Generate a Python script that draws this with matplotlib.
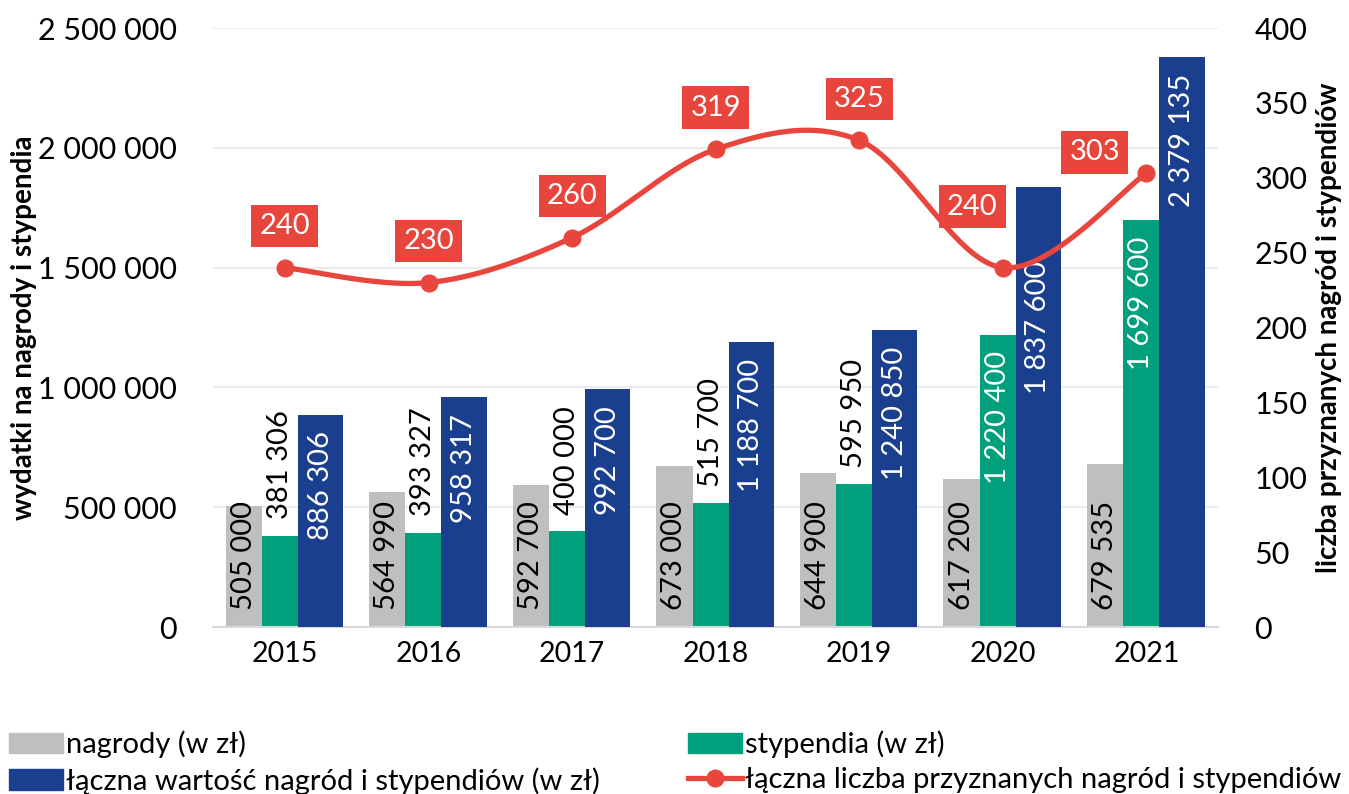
import numpy as np
import matplotlib
matplotlib.use("Agg")
import matplotlib.pyplot as plt
from matplotlib.patches import Patch
from matplotlib.lines import Line2D

plt.rcParams['font.family'] = ['Lato', 'DejaVu Sans']

years = ['2015', '2016', '2017', '2018', '2019', '2020', '2021']
nagrody = [505000, 564990, 592700, 673000, 644900, 617200, 679535]
stypendia = [381306, 393327, 400000, 515700, 595950, 1220400, 1699600]
lacznie = [886306, 958317, 992700, 1188700, 1240850, 1837600, 2379135]
liczba = [240, 230, 260, 319, 325, 240, 303]

GRAY = '#bfbfbf'
GREEN = '#00a07c'
BLUE = '#1b3f8f'
RED = '#e8453c'

# label shifts that were moved by hand in the original (points)
box_offsets = {5: (-22, 44), 6: (-37, 15)}
blue_label_offsets = {5: -53}


def fmt(v):
    return f'{v:,}'.replace(',', ' ')


def smooth(x, y, n=40):
    # bezier smoothing similar to excel "smoothed line"
    x = np.asarray(x, float)
    y = np.asarray(y, float)
    px = np.concatenate([[x[0]], x, [x[-1]]])
    py = np.concatenate([[y[0]], y, [y[-1]]])
    xs, ys = [], []
    t = np.linspace(0, 1, n)
    for i in range(len(x) - 1):
        p0 = np.array([px[i + 1], py[i + 1]])
        p3 = np.array([px[i + 2], py[i + 2]])
        c1 = p0 + (np.array([px[i + 2], py[i + 2]]) - np.array([px[i], py[i]])) / 6
        c2 = p3 - (np.array([px[i + 3], py[i + 3]]) - np.array([px[i + 1], py[i + 1]])) / 6
        b = ((1 - t) ** 3)[:, None] * p0 + (3 * (1 - t) ** 2 * t)[:, None] * c1 \
            + (3 * (1 - t) * t ** 2)[:, None] * c2 + (t ** 3)[:, None] * p3
        xs.extend(b[:, 0])
        ys.extend(b[:, 1])
    return xs, ys


fig = plt.figure(figsize=(13.49, 7.94), dpi=100)
ax = fig.add_axes([0.158, 0.2103, 0.745, 0.7544])
x = np.arange(len(years))

ax.bar(x - 0.287, nagrody, width=0.252, color=GRAY, zorder=2)
ax.bar(x - 0.035, stypendia, width=0.252, color=GREEN, zorder=2)
ax.bar(x + 0.248, lacznie, width=0.315, color=BLUE, zorder=3)

lab_fs = 21
for i in range(len(years)):
    ax.annotate(fmt(nagrody[i]), (x[i] - 0.287, 0), xytext=(0, 12), textcoords='offset points',
                rotation=90, ha='center', va='bottom', fontsize=lab_fs, color='black', zorder=4)
    if stypendia[i] < 1000000:
        ax.annotate(fmt(stypendia[i]), (x[i] - 0.035, stypendia[i]), xytext=(0, 12),
                    textcoords='offset points', rotation=90, ha='center', va='bottom',
                    fontsize=lab_fs, color='black', zorder=2.5)
    else:
        ax.annotate(fmt(stypendia[i]), (x[i] - 0.035, stypendia[i]), xytext=(0, -12),
                    textcoords='offset points', rotation=90, ha='center', va='top',
                    fontsize=lab_fs, color='white', zorder=2.5)
    ax.annotate(fmt(lacznie[i]), (x[i] + 0.248, lacznie[i]),
                xytext=(0, blue_label_offsets.get(i, -12)),
                textcoords='offset points', rotation=90, ha='center', va='top',
                fontsize=lab_fs, color='white', zorder=4)

ax.set_xlim(-0.5, len(years) - 0.5)
ax.set_ylim(0, 2500000)
ax.set_yticks(np.arange(0, 2500001, 500000))
ax.set_yticklabels([fmt(v) for v in range(0, 2500001, 500000)], fontsize=22)
ax.set_xticks(x)
ax.set_xticklabels(years, fontsize=20.5)
ax.tick_params(length=0, pad=10)
ax.tick_params(axis='y', pad=26)
ax.grid(axis='y', color='#ececec', linewidth=1.5, zorder=0)
ax.set_axisbelow(True)
for s in ['top', 'left', 'right']:
    ax.spines[s].set_visible(False)
ax.spines['bottom'].set_color('#d9d9d9')
ax.spines['bottom'].set_linewidth(1.5)
ax.set_ylabel('wydatki na nagrody i stypendia', fontsize=20, fontweight='bold', labelpad=1)

ax2 = ax.twinx()
ax2.set_ylim(0, 400)
ax2.set_yticks(np.arange(0, 401, 50))
ax2.tick_params(length=0, labelsize=22, pad=26)
for s in ['top', 'left', 'right', 'bottom']:
    ax2.spines[s].set_visible(False)
sx, sy = smooth(x, liczba)
ax2.plot(sx, sy, color=RED, linewidth=3.8, zorder=5)
ax2.plot(x, liczba, 'o', color=RED, markersize=12, zorder=6)
for i in range(len(years)):
    ax2.annotate(str(liczba[i]), (x[i], liczba[i]), xytext=box_offsets.get(i, (0, 30)),
                 textcoords='offset points', ha='center', va='center', fontsize=21,
                 color='white', zorder=7,
                 bbox=dict(boxstyle='square,pad=0.28', fc=RED, ec='none'))
ax2.set_ylabel('liczba przyznanych nagród i stypendiów', fontsize=20, fontweight='bold',
               labelpad=6)

handles = [Patch(color=GRAY), Patch(color=BLUE), Patch(color=GREEN),
           Line2D([0], [0], color=RED, linewidth=3.8, marker='o', markersize=12)]
labels = ['nagrody (w zł)', 'łączna wartość nagród i stypendiów (w zł)', 'stypendia (w zł)',
          'łączna liczba przyznanych nagród i stypendiów']
fig.legend(handles, labels, ncol=2, loc='lower left', bbox_to_anchor=(0.0, -0.012),
           frameon=False, fontsize=21, handlelength=1.85, handleheight=0.7,
           handletextpad=0.12, columnspacing=3.0, labelspacing=0.3, borderpad=0.2,
           borderaxespad=0.1)

fig.savefig('out.png', dpi=100)
